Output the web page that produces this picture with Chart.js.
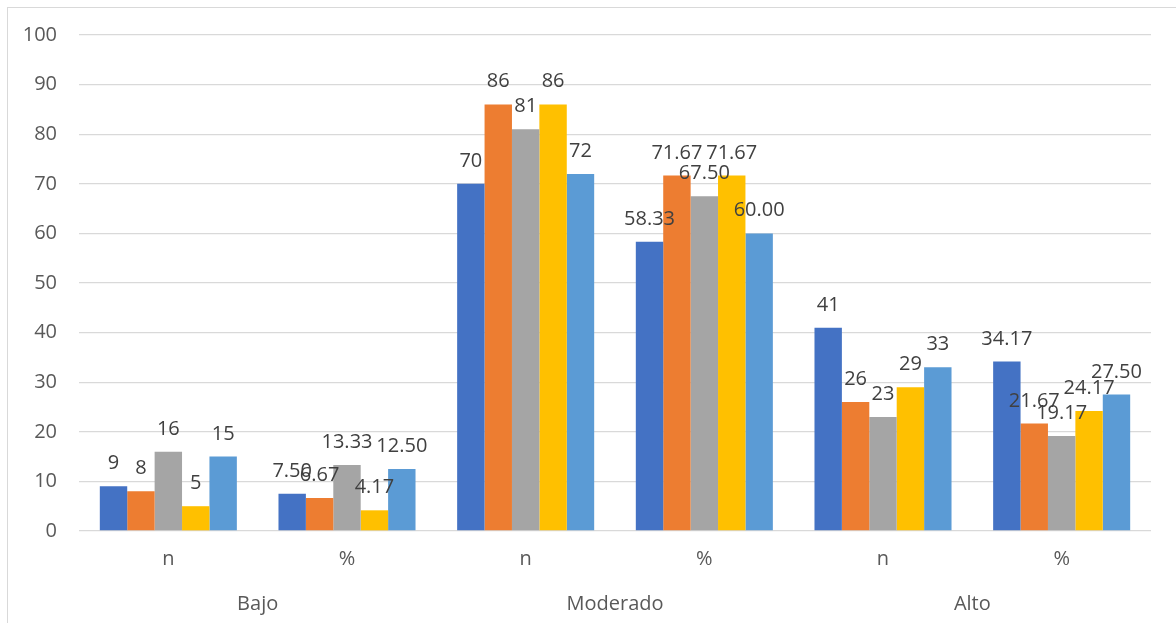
<!DOCTYPE html>
<html lang="es">
<head>
    <meta charset="UTF-8">
    <title>Niveles</title>
    <script src="https://cdn.jsdelivr.net/npm/chart.js"></script>
    <style>
        body { margin: 0; background: #fff; }
        #marco { position: relative; width: 1176px; height: 623px; overflow: hidden; }
        #borde { position: absolute; left: 7px; top: 7px; width: 1300px; height: 700px;
                 border-left: 1px solid #D9D9D9; border-top: 1px solid #D9D9D9; }
        #grafico { position: absolute; left: 0; top: 0; }
    </style>
</head>
<body>
    <div id="marco">
        <div id="borde"></div>
        <canvas id="grafico" width="1176" height="623"></canvas>
    </div>

    <script>
        // Datos
        const categorias = ['n', '%', 'n', '%', 'n', '%'];
        const grupos = ['Bajo', 'Moderado', 'Alto'];
        const serie1 = [9, 7.50, 70, 58.33, 41, 34.17];
        const serie2 = [8, 6.67, 86, 71.67, 26, 21.67];
        const serie3 = [16, 13.33, 81, 67.50, 23, 19.17];
        const serie4 = [5, 4.17, 86, 71.67, 29, 24.17];
        const serie5 = [15, 12.50, 72, 60.00, 33, 27.50];
        const colores = ['#4472C4', '#ED7D31', '#A5A5A5', '#FFC000', '#5B9BD5'];
        const fuente = "'Open Sans', sans-serif";

        // Etiquetas de datos encima de cada barra
        const etiquetas = {
            id: 'etiquetas',
            afterDatasetsDraw(chart) {
                const ctx = chart.ctx;
                ctx.save();
                ctx.font = '20px ' + fuente;
                ctx.fillStyle = '#404040';
                ctx.textAlign = 'center';
                ctx.textBaseline = 'alphabetic';
                chart.data.datasets.forEach(function (ds, i) {
                    const meta = chart.getDatasetMeta(i);
                    meta.data.forEach(function (bar, j) {
                        const v = ds.data[j];
                        const txt = categorias[j] === '%' ? v.toFixed(2) : String(Math.round(v));
                        ctx.fillText(txt, bar.x, bar.y - 17);
                    });
                });
                ctx.restore();
            }
        };

        const series = [serie1, serie2, serie3, serie4, serie5];
        new Chart(document.getElementById('grafico'), {
            type: 'bar',
            data: {
                labels: categorias,
                datasets: series.map(function (d, i) {
                    return {
                        label: 'Serie ' + (i + 1),
                        data: d,
                        backgroundColor: colores[i],
                        borderWidth: 0,
                        categoryPercentage: 0.767,
                        barPercentage: 1
                    };
                })
            },
            options: {
                responsive: false,
                animation: false,
                devicePixelRatio: 1,
                layout: { padding: { left: 0, top: 35, right: 25, bottom: 0 } },
                plugins: { legend: { display: false }, tooltip: { enabled: false } },
                scales: {
                    y: {
                        min: 0,
                        max: 100,
                        ticks: { stepSize: 10, padding: 22, color: '#595959', font: { family: fuente, size: 20 } },
                        grid: { color: '#D9D9D9', lineWidth: 1.3, drawTicks: false },
                        border: { display: false },
                        afterFit(s) { s.width = 79; }
                    },
                    x: {
                        weight: 0,
                        ticks: { padding: 16, color: '#595959', font: { family: fuente, size: 20 } },
                        grid: { display: false, drawTicks: false },
                        border: { display: false },
                        afterFit(s) { s.height = 49; }
                    },
                    x2: {
                        type: 'category',
                        position: 'bottom',
                        weight: 1,
                        labels: grupos,
                        offset: true,
                        ticks: { padding: 12, color: '#595959', font: { family: fuente, size: 20 } },
                        grid: { display: false, drawTicks: false },
                        border: { display: false },
                        afterFit(s) { s.height = 43; }
                    }
                }
            },
            plugins: [etiquetas]
        });
    </script>
</body>
</html>
